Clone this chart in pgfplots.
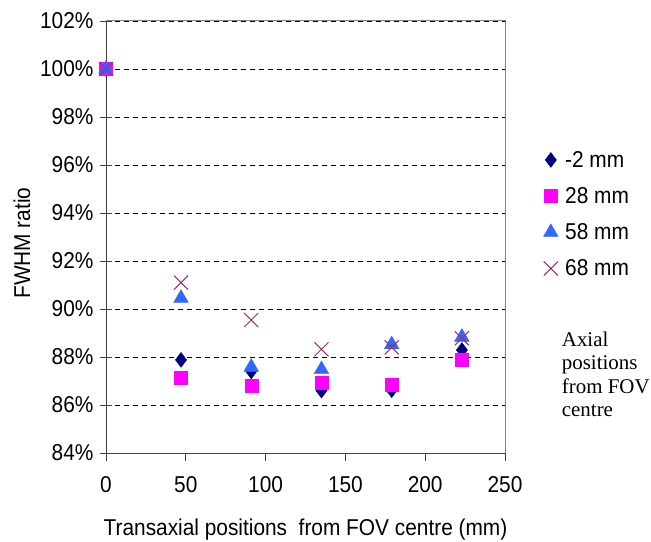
\documentclass[border=0pt]{standalone}
\usepackage{fontspec}
\setmainfont{Liberation Sans}[FakeStretch=0.91]
\newfontfamily\seriffont{Liberation Serif}
\usepackage{pgfplots}
\pgfplotsset{compat=1.18}
\definecolor{s1}{RGB}{0,0,128}
\definecolor{s2}{RGB}{255,0,255}
\definecolor{s3}{RGB}{51,102,255}
\definecolor{s4}{RGB}{153,51,102}
\definecolor{framegray}{RGB}{128,128,128}
\definecolor{axisgray}{RGB}{64,64,64}

\begin{document}
\begin{tikzpicture}[x=1bp,y=1bp]
\useasboundingbox (-106,-89) rectangle (545,453);
\begin{axis}[
  at={(0,0)}, anchor=south west,
  scale only axis, width=399bp, height=432bp,
  xmin=0, xmax=250, ymin=84, ymax=102,
  xtick={0,50,...,250}, ytick={84,86,...,102},
  axis x line*=bottom, axis y line*=left,
  axis line style={axisgray, line width=0.8bp, -},
  xtick align=outside, ytick align=center,
  major tick length=12bp,
  xtick style={axisgray, line width=0.8bp, /pgfplots/major tick length=8bp},
  ytick style={axisgray, line width=0.8bp},
  ymajorgrids,
  grid style={black, dash pattern=on 5bp off 4bp, line width=0.8bp},
  yticklabel={\pgfmathprintnumber{\tick}\%},
  every tick label/.append style={font=\fontsize{23}{27}\selectfont},
  xticklabel style={yshift=-8bp},
  yticklabel style={xshift=-3bp},
  /pgf/number format/assume math mode=true,
  xlabel={Transaxial positions\ \ from FOV centre (mm)},
  xlabel style={at={(axis description cs:0.5,-0.192)}, anchor=base, font=\fontsize{23}{27}\selectfont},
  ylabel={FWHM ratio},
  ylabel style={at={(axis description cs:-0.2105,0.486)}, anchor=center, font=\fontsize{23}{27}\selectfont},
  legend style={draw=none, fill=none, at={(axis description cs:1.096,0.7037)}, anchor=north west,
    inner sep=0pt, row sep=14.7bp, font=\fontsize{23}{27}\selectfont,
    /tikz/every odd column/.append style={column sep=5bp}},
  legend cell align=left,
]
\addplot[only marks, mark=diamond*, mark size=7.5pt, color=s1] coordinates {
  (0,100) (47,87.88) (91,87.4) (135,86.6) (179,86.62) (223,88.29)};
\addplot[only marks, mark=square*, mark size=6.5pt, color=s2] coordinates {
  (0,100) (47,87.15) (91,86.79) (135,86.93) (179,86.86) (223,87.9)};
\addplot[only marks, mark=triangle*, mark size=8.5pt, color=s3] coordinates {
  (0,100) (47,90.45) (91,87.58) (135,87.48) (179,88.52) (223,88.83)};
\addplot[only marks, mark=x, mark size=10pt, color=s4, mark options={line width=1bp}] coordinates {
  (0,100) (47,91.1) (91,89.54) (135,88.32) (179,88.4) (223,88.78)};
\legend{-2 mm, 28 mm, 58 mm, 68 mm}
\end{axis}
\draw[framegray, line width=1bp] (0,432) -- (399,432) -- (399,0);
\node[anchor=north west, align=left, inner sep=0pt, font=\seriffont\fontsize{21}{23.5}\selectfont]
  at (455.7,121.3) {Axial\\positions\\from FOV\\centre};
\end{tikzpicture}
\end{document}
